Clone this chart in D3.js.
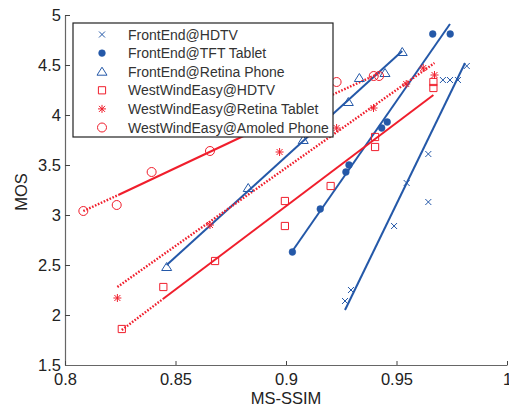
<!DOCTYPE html>
<html>
<head>
<meta charset="utf-8">
<script src="https://cdn.jsdelivr.net/npm/d3@7"></script>
<style>
  body { margin: 0; background: #fff; }
  svg { display: block; font-family: "Liberation Sans", Arial, sans-serif; }
</style>
</head>
<body>
<svg id="chart" width="509" height="407"></svg>
<script>
// tick values + labels
const xTicks = [0.8, 0.85, 0.9, 0.95, 1]
const xTickLabels = ["0.8", "0.85", "0.9", "0.95", "1"]
const yTicks = [1.5, 2, 2.5, 3, 3.5, 4, 4.5, 5]
const yTickLabels = ["1.5", "2", "2.5", "3", "3.5", "4", "4.5", "5"]

const seriesNames = ["FrontEnd@HDTV", "FrontEnd@TFT Tablet", "FrontEnd@Retina Phone",
  "WestWindEasy@HDTV", "WestWindEasy@Retina Tablet", "WestWindEasy@Amoled Phone"]

// points
const feHdtvX = [0.9267, 0.9294, 0.9489, 0.9546, 0.9644, 0.9644, 0.9710, 0.9742, 0.9778, 0.9818]
const feHdtvY = [2.14, 2.25, 2.89, 3.32, 3.13, 3.61, 4.35, 4.35, 4.35, 4.49]
const feTftX = [0.9029, 0.9155, 0.9271, 0.9285, 0.9433, 0.9458, 0.9664, 0.9743]
const feTftY = [2.63, 3.06, 3.43, 3.50, 3.87, 3.93, 4.81, 4.81]
const feRetX = [0.846, 0.8829, 0.9078, 0.9282, 0.9332, 0.9448, 0.9526]
const feRetY = [2.48, 3.27, 3.75, 4.13, 4.37, 4.42, 4.63]
const wwHdtvX = [0.8257, 0.8445, 0.8679, 0.8995, 0.8995, 0.9202, 0.9403, 0.9403, 0.9667, 0.9667]
const wwHdtvY = [1.86, 2.28, 2.54, 2.89, 3.14, 3.29, 3.78, 3.68, 4.33, 4.27]
const wwTabX = [0.8237, 0.8656, 0.8971, 0.9229, 0.9396, 0.9544, 0.9621, 0.9672]
const wwTabY = [2.17, 2.90, 3.63, 3.87, 4.07, 4.31, 4.47, 4.40]
const wwAmoX = [0.8083, 0.8234, 0.8392, 0.8656, 0.9229, 0.9397, 0.9421]
const wwAmoY = [3.04, 3.10, 3.43, 3.64, 4.33, 4.39, 4.39]

// fitted lines as drawn (segment ends + style of each segment)
const feHdtvFitX = [0.9267, 0.981], feHdtvFitY = [2.05, 4.52], feHdtvFitStyle = ["solid"]
const feTftFitX = [0.9029, 0.9742], feTftFitY = [2.64, 4.91], feTftFitStyle = ["solid"]
const feRetFitX = [0.846, 0.9526], feRetFitY = [2.50, 4.64], feRetFitStyle = ["solid"]
const wwHdtvFitX = [0.8257, 0.8443, 0.9667], wwHdtvFitY = [1.85, 2.16, 4.20], wwHdtvFitStyle = ["dot", "solid"]
const wwTabFitX = [0.8237, 0.9672], wwTabFitY = [2.28, 4.52], wwTabFitStyle = ["dot"]
const wwAmoFitX = [0.8083, 0.8241, 0.90, 0.9425], wwAmoFitY = [3.04, 3.20, 3.99, 4.42], wwAmoFitStyle = ["dot", "solid", "dot"]

const blue = "#2458a8"
const red = "#f01e2c"

const series = [
  {xs: feHdtvX, ys: feHdtvY, fx: feHdtvFitX, fy: feHdtvFitY, fs: feHdtvFitStyle, color: blue, mark: "x"},
  {xs: feTftX, ys: feTftY, fx: feTftFitX, fy: feTftFitY, fs: feTftFitStyle, color: blue, mark: "dot"},
  {xs: feRetX, ys: feRetY, fx: feRetFitX, fy: feRetFitY, fs: feRetFitStyle, color: blue, mark: "tri"},
  {xs: wwHdtvX, ys: wwHdtvY, fx: wwHdtvFitX, fy: wwHdtvFitY, fs: wwHdtvFitStyle, color: red, mark: "sq"},
  {xs: wwTabX, ys: wwTabY, fx: wwTabFitX, fy: wwTabFitY, fs: wwTabFitStyle, color: red, mark: "star"},
  {xs: wwAmoX, ys: wwAmoY, fx: wwAmoFitX, fy: wwAmoFitY, fs: wwAmoFitStyle, color: red, mark: "circ"}
]

const svg = d3.select("#chart")

const xScale = d3.scaleLinear().domain([0.8, 1]).range([65, 507])
const yScale = d3.scaleLinear().domain([1.5, 5]).range([365, 15])

function markerPath(type) {
  if (type == "x") return "M-3,-3L3,3M-3,3L3,-3"
  if (type == "star") return "M-4,0H4M0,-4V4M-3,-3L3,3M-3,3L3,-3"
  if (type == "tri") return "M0,-4.5L5,3.5H-5Z"
  if (type == "sq") return "M-3.6,-3.6h7.2v7.2h-7.2Z"
  if (type == "circ") return d3.symbol(d3.symbolCircle, Math.PI * 4.5 * 4.5)()
  return d3.symbol(d3.symbolCircle, Math.PI * 3.4 * 3.4)()
}

function drawMarker(g, type, color) {
  g.append("path")
    .attr("d", markerPath(type))
    .attr("fill", type == "dot" ? color : "none")
    .attr("stroke", color)
    .attr("stroke-width", type == "dot" ? 0.5 : 1)
}

// axes
const yAxis = d3.axisLeft(yScale).tickValues(yTicks)
  .tickFormat((d, i) => yTickLabels[i]).tickSizeInner(-5).tickSizeOuter(0).tickPadding(4)
const xAxis = d3.axisBottom(xScale).tickValues(xTicks)
  .tickFormat((d, i) => xTickLabels[i]).tickSizeInner(-4).tickSizeOuter(0).tickPadding(8)

const gy = svg.append("g").attr("transform", "translate(65,0)").call(yAxis)
const gx = svg.append("g").attr("transform", "translate(0,365)").call(xAxis)
for (const g of [gx, gy]) {
  g.select(".domain").attr("stroke", "#666").attr("stroke-width", 1.2)
  g.selectAll(".tick line").attr("stroke", "#444")
  g.selectAll(".tick text").attr("font-size", 16.5).attr("fill", "#222")
    .attr("font-family", "Liberation Sans, Arial, sans-serif")
}

// fit lines
const line = d3.line().x(d => xScale(d[0])).y(d => yScale(d[1]))
series.forEach(s => {
  s.fs.forEach((style, i) => {
    svg.append("path")
      .attr("d", line([[s.fx[i], s.fy[i]], [s.fx[i + 1], s.fy[i + 1]]]))
      .attr("fill", "none")
      .attr("stroke", s.color)
      .attr("stroke-width", style == "dot" ? 2.4 : 2)
      .attr("stroke-dasharray", style == "dot" ? "1.6,1.6" : null)
  })
})

// markers
series.forEach(s => {
  s.xs.forEach((xv, i) => {
    const g = svg.append("g").attr("transform", `translate(${xScale(xv)},${yScale(s.ys[i])})`)
    drawMarker(g, s.mark, s.color)
  })
})

// axis titles
svg.append("text").attr("x", 286).attr("y", 404).attr("text-anchor", "middle")
  .attr("font-size", 16.5).attr("fill", "#222").text("MS-SSIM")
svg.append("text").attr("transform", "translate(26.5,192) rotate(-90)").attr("text-anchor", "middle")
  .attr("font-size", 16.5).attr("fill", "#222").text("MOS")

// legend
const legend = svg.append("g")
legend.append("rect").attr("x", 73).attr("y", 23).attr("width", 260).attr("height", 114)
  .attr("fill", "#fff").attr("stroke", "#222").attr("stroke-width", 1.2)
series.forEach((s, i) => {
  const yy = 34.5 + i * 18.6
  drawMarker(legend.append("g").attr("transform", `translate(102,${yy})`), s.mark, s.color)
  legend.append("text").attr("x", 128).attr("y", yy).attr("dy", "0.36em")
    .attr("font-size", 14).attr("fill", "#333").text(seriesNames[i])
})
</script>
</body>
</html>
